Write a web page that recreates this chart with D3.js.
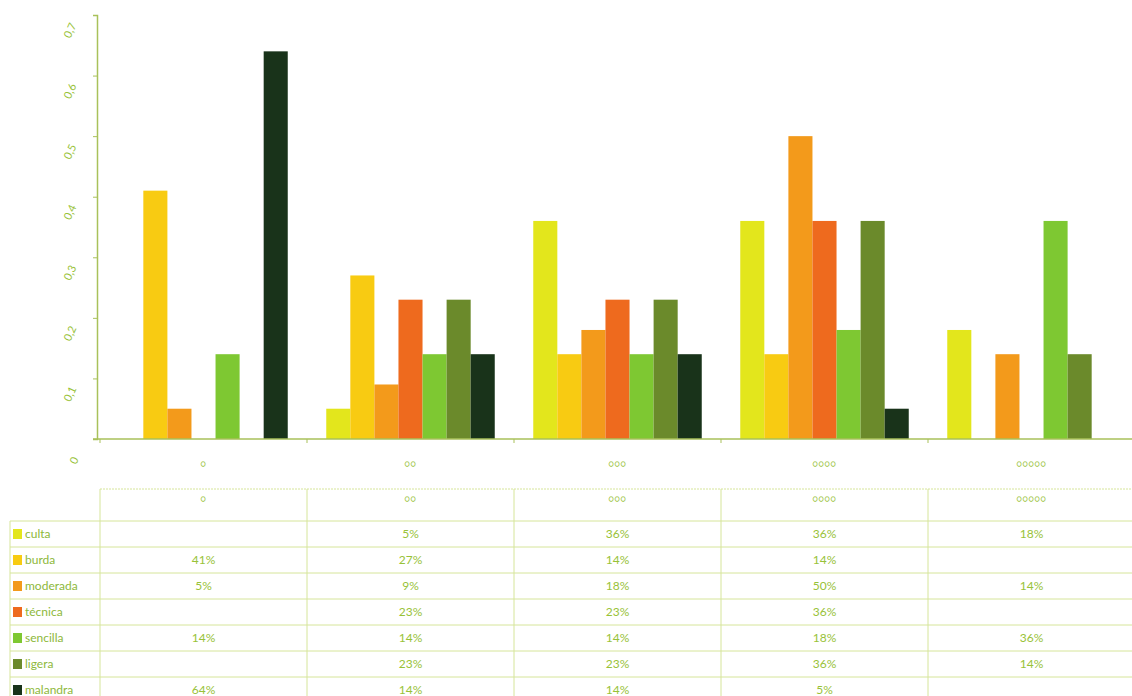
<!DOCTYPE html>
<html>
<head>
<meta charset="utf-8">
<script src="https://cdn.jsdelivr.net/npm/d3@7"></script>
<style>
  html, body { margin: 0; padding: 0; background: #fff; }
  svg { display: block; font-family: Lato, "Open Sans", sans-serif; }
</style>
</head>
<body>
<svg id="chart" width="1132" height="696"></svg>
<script>
// Categories (number of circles) and series
const groups = ["○", "○○", "○○○", "○○○○", "○○○○○"];
const seriesNames = ["culta", "burda", "moderada", "técnica", "sencilla", "ligera", "malandra"];
const seriesColors = ["#e3e61c", "#f8cb12", "#f39a1b", "#ee6a1e", "#7ec832", "#6b8a2b", "#19331a"];

// Percentages per group (null = no value)
const culta    = [null, 5, 36, 36, 18];
const burda    = [41, 27, 14, 14, null];
const moderada = [5, 9, 18, 50, 14];
const tecnica  = [null, 23, 23, 36, null];
const sencilla = [14, 14, 14, 18, 36];
const ligera   = [null, 23, 23, 36, 14];
const malandra = [64, 14, 14, 5, null];

const yTicks = [0, 0.1, 0.2, 0.3, 0.4, 0.5, 0.6, 0.7];
const yTickLabels = ["0", "0,1", "0,2", "0,3", "0,4", "0,5", "0,6", "0,7"];

const seriesValues = [culta, burda, moderada, tecnica, sencilla, ligera, malandra];

const svg = d3.select("#chart");
const axisColor = "#a9c15a";
const textColor = "#98c238";
const gridColor = "#d6e59a";

const x = d3.scaleBand().domain(groups).range([100, 1135]);
const xs = d3.scaleBand().domain(seriesNames).range([0, x.bandwidth()]).paddingOuter(0.8);
const y = d3.scaleLinear().domain([0, 0.7]).range([439, 15]);

// Bars
const barData = [];
seriesNames.forEach((s, i) => {
  seriesValues[i].forEach((v, j) => {
    if (v !== null) barData.push({ s, g: groups[j], v, c: seriesColors[i] });
  });
});
svg.append("g").selectAll("rect").data(barData).join("rect")
  .attr("x", d => x(d.g) + xs(d.s))
  .attr("width", xs.bandwidth())
  .attr("y", d => y(d.v / 100))
  .attr("height", d => y(0) - y(d.v / 100))
  .attr("fill", d => d.c);

// Y axis
const yAxis = svg.append("g").attr("transform", "translate(97,0)")
  .call(d3.axisLeft(y).tickValues(yTicks).tickSize(4).tickFormat(""));
yAxis.select(".domain").attr("stroke", axisColor).attr("stroke-width", 1.5);
yAxis.selectAll(".tick line").attr("stroke", axisColor);
svg.append("g").selectAll("text").data(yTicks).join("text")
  .attr("transform", (d, i) => `translate(${i === 0 ? 75 : 71},${y(d) + (i === 0 ? 22 : 16)}) rotate(-65)`)
  .attr("text-anchor", "middle")
  .attr("dominant-baseline", "middle")
  .attr("font-size", 11)
  .attr("fill", textColor)
  .text((d, i) => yTickLabels[i]);

// X axis
const xAxisLine = svg.append("g").attr("transform", `translate(0,${y(0)})`);
xAxisLine.append("line").attr("x1", 93).attr("x2", 1132).attr("y1", 0).attr("y2", 0)
  .attr("stroke", axisColor).attr("stroke-width", 1.5);
xAxisLine.selectAll("line.tk").data(groups).join("line").attr("class", "tk")
  .attr("x1", d => x(d)).attr("x2", d => x(d)).attr("y1", 0).attr("y2", 4)
  .attr("stroke", axisColor);
svg.append("g").selectAll("text").data(groups).join("text")
  .attr("x", d => x(d) + x.bandwidth() / 2)
  .attr("y", 465)
  .attr("text-anchor", "middle")
  .attr("dominant-baseline", "middle")
  .attr("font-size", 9)
  .attr("fill", textColor)
  .text(d => d);

// Data table
const tableLeft = 10;
const headerTop = 489;
const rowTop = 521;
const rowH = 26;
const tableBottom = rowTop + rowH * seriesNames.length;
const table = svg.append("g");

// horizontal rules
const hLines = [headerTop, rowTop].concat(seriesNames.map((s, i) => rowTop + rowH * (i + 1)));
table.selectAll("line.h").data(hLines).join("line").attr("class", "h")
  .attr("x1", (d, i) => i === 0 ? 100 : tableLeft).attr("x2", 1132)
  .attr("y1", d => d).attr("y2", d => d)
  .attr("stroke", gridColor).attr("stroke-width", 1)
  .attr("stroke-dasharray", (d, i) => i === 0 ? "2,1" : null);

// vertical rules
const vLines = [tableLeft].concat(groups.map(g => x(g)));
table.selectAll("line.v").data(vLines).join("line").attr("class", "v")
  .attr("x1", d => d).attr("x2", d => d)
  .attr("y1", (d, i) => i === 0 ? rowTop : headerTop).attr("y2", tableBottom)
  .attr("stroke", gridColor).attr("stroke-width", 1);

// header
table.selectAll("text.hd").data(groups).join("text").attr("class", "hd")
  .attr("x", d => x(d) + x.bandwidth() / 2)
  .attr("y", headerTop + 11)
  .attr("text-anchor", "middle")
  .attr("dominant-baseline", "middle")
  .attr("font-size", 9)
  .attr("fill", textColor)
  .text(d => d);

// legend column and values
seriesNames.forEach((s, i) => {
  const cy = rowTop + rowH * i + rowH / 2;
  table.append("rect")
    .attr("x", 13).attr("y", cy - 5).attr("width", 9).attr("height", 10)
    .attr("fill", seriesColors[i]);
  table.append("text")
    .attr("x", 25).attr("y", cy + 1)
    .attr("dominant-baseline", "middle")
    .attr("font-size", 12)
    .attr("fill", "#8db83a")
    .text(s);
  table.append("g").selectAll("text").data(seriesValues[i].map((v, j) => ({ v, g: groups[j] })).filter(d => d.v !== null))
    .join("text")
    .attr("x", d => x(d.g) + x.bandwidth() / 2)
    .attr("y", cy + 1)
    .attr("text-anchor", "middle")
    .attr("dominant-baseline", "middle")
    .attr("font-size", 12)
    .attr("fill", textColor)
    .text(d => d.v + "%");
});
</script>
</body>
</html>
